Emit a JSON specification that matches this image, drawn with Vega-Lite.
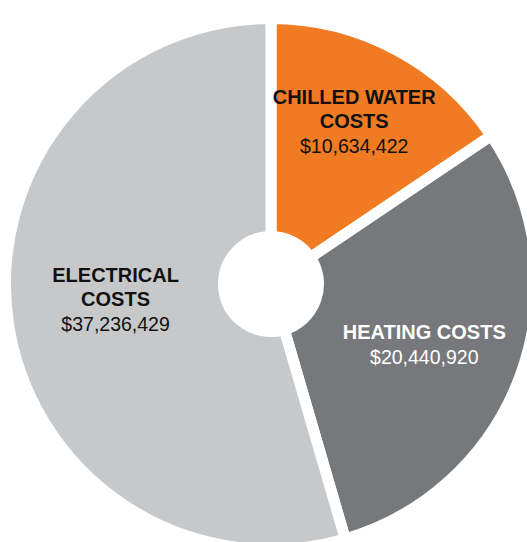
{
  "$schema": "https://vega.github.io/schema/vega-lite/v6.json",
  "width": 512,
  "height": 516,
  "autosize": {"type": "none"},
  "padding": {"left": 15, "top": 26, "right": 0, "bottom": 0},
  "background": "white",
  "view": {"stroke": null},
  "data": {
    "values": [
      {"category": "Chilled Water", "name_top": "CHILLED WATER", "name": "COSTS", "value": 10634422},
      {"category": "Heating", "name_top": "", "name": "HEATING COSTS", "value": 20440920},
      {"category": "Electrical", "name_top": "ELECTRICAL", "name": "COSTS", "value": 37236429}
    ]
  },
  "transform": [{"window": [{"op": "row_number", "as": "rank"}]}],
  "encoding": {
    "theta": {"field": "value", "type": "quantitative", "stack": true},
    "order": {"field": "rank", "type": "quantitative"}
  },
  "layer": [
    {
      "mark": {"type": "arc", "outerRadius": 265.5, "innerRadius": 47.5, "stroke": "white", "strokeWidth": 11, "strokeJoin": "miter"},
      "encoding": {
        "color": {
          "field": "category",
          "type": "nominal",
          "scale": {"domain": ["Chilled Water", "Heating", "Electrical"], "range": ["#F07B23", "#77787C", "#C7C8CA"]},
          "legend": null
        }
      }
    },
    {
      "mark": {"type": "text", "font": "Liberation Sans", "fontWeight": "bold", "fontSize": 20, "align": "center", "baseline": "alphabetic", "dy": -24},
      "encoding": {
        "radius": {"field": "value", "type": "quantitative", "scale": {"type": "linear", "domain": [10634422, 20440920, 37236429], "range": [177, 163, 157], "zero": false, "nice": false}},
        "text": {"field": "name_top", "type": "nominal"},
        "color": {"condition": {"test": "datum.category === 'Heating'", "value": "#FFFFFF"}, "value": "#111111"}
      }
    },
    {
      "mark": {"type": "text", "font": "Liberation Sans", "fontWeight": "bold", "fontSize": 20, "align": "center", "baseline": "alphabetic"},
      "encoding": {
        "radius": {"field": "value", "type": "quantitative", "scale": {"type": "linear", "domain": [10634422, 20440920, 37236429], "range": [177, 163, 157], "zero": false, "nice": false}},
        "text": {"field": "name", "type": "nominal"},
        "color": {"condition": {"test": "datum.category === 'Heating'", "value": "#FFFFFF"}, "value": "#111111"}
      }
    },
    {
      "mark": {"type": "text", "font": "Liberation Sans", "fontSize": 19.5, "align": "center", "baseline": "alphabetic", "dy": 25},
      "encoding": {
        "radius": {"field": "value", "type": "quantitative", "scale": {"type": "linear", "domain": [10634422, 20440920, 37236429], "range": [177, 163, 157], "zero": false, "nice": false}},
        "text": {"field": "value", "type": "quantitative", "format": "$,.0f"},
        "color": {"condition": {"test": "datum.category === 'Heating'", "value": "#FFFFFF"}, "value": "#111111"}
      }
    }
  ]
}
